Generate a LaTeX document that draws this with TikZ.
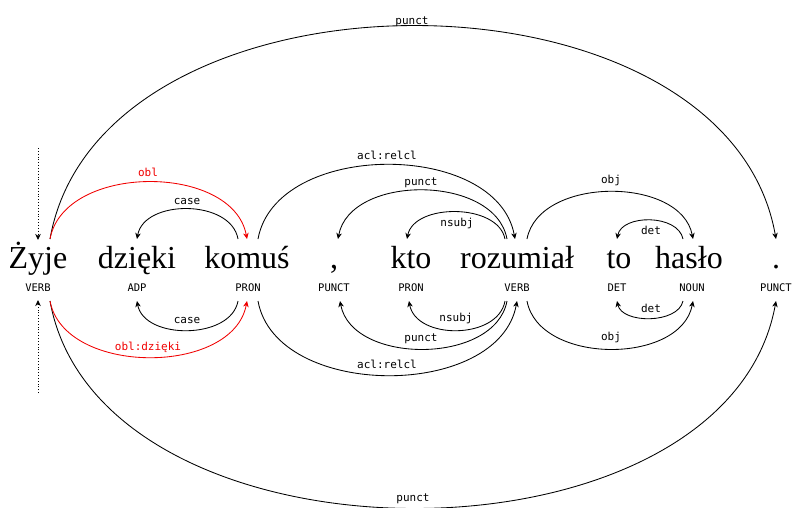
\documentclass[tikz,border=0pt]{standalone}
\usepackage{fontspec}
\usetikzlibrary{calc,arrows.meta}
\newfontfamily\labfont{DejaVu Sans Mono}
\newfontfamily\wordfont{Liberation Serif}
\definecolor{depred}{RGB}{240,0,0}
\tikzset{
  word/.style={anchor=base, inner sep=0pt, font=\wordfont\fontsize{32}{34}\selectfont},
  postag/.style={anchor=base, inner sep=0pt, font=\labfont\fontsize{10.5}{12}\selectfont},
  lab/.style={anchor=base, inner sep=0pt, font=\labfont\fontsize{11}{13}\selectfont},
  dep/.style={draw, line width=0.85pt, -{Stealth[length=6pt,width=5.5pt,inset=1.8pt]}},
  rootline/.style={draw, line width=0.85pt, dotted, -{Stealth[length=6pt,width=5.5pt,inset=1.8pt]}},
}
\begin{document}
\begin{tikzpicture}[x=1pt,y=-1pt]
\useasboundingbox (0,0) rectangle (793,507);
% words
\node[word] (w1) at (38,268) {Żyje};
\node[word] (w2) at (137,268) {dzięki};
\node[word] (w3) at (247,268) {komuś};
\node[word] (w4) at (334,268) {,};
\node[word] (w5) at (411,268) {kto};
\node[word] (w6) at (517,268) {rozumiał};
\node[word] (w7) at (619,268) {to};
\node[word] (w8) at (689,268) {hasło};
\node[word] (w9) at (776,268) {.};
% POS
\node[postag] (p1) at (38,291) {VERB};
\node[postag] (p2) at (137,291) {ADP};
\node[postag] (p3) at (248,291) {PRON};
\node[postag] (p4) at (334,291) {PUNCT};
\node[postag] (p5) at (411,291) {PRON};
\node[postag] (p6) at (517,291) {VERB};
\node[postag] (p7) at (617,291) {DET};
\node[postag] (p8) at (692,291) {NOUN};
\node[postag] (p9) at (776,291) {PUNCT};
% top endpoints
\coordinate (rt0) at (38,148);
\coordinate (rt1) at (38,240);
\coordinate (zyT) at (50,239);
\coordinate (dzT) at (137,239);
\coordinate (koTa) at (238,239);
\coordinate (koTb) at (247,239);
\coordinate (koTc) at (258,239);
\coordinate (coT) at (338,239);
\coordinate (ktT) at (407,239);
\coordinate (roTa) at (505,239);
\coordinate (roTb) at (507,239);
\coordinate (roTc) at (515,239);
\coordinate (roTd) at (527,239);
\coordinate (toT) at (617,239);
\coordinate (haTa) at (683,239);
\coordinate (haTb) at (693,239);
\coordinate (doT) at (776,239);
% bottom endpoints
\coordinate (rb0) at (38,393);
\coordinate (rb1) at (38,300);
\coordinate (zyB) at (50,301);
\coordinate (dzB) at (137,301);
\coordinate (koBa) at (238,301);
\coordinate (koBb) at (247,301);
\coordinate (koBc) at (258,301);
\coordinate (coB) at (340,301);
\coordinate (ktB) at (409,301);
\coordinate (roBa) at (505,301);
\coordinate (roBb) at (507,301);
\coordinate (roBc) at (517,301);
\coordinate (roBd) at (527,301);
\coordinate (toB) at (617,301);
\coordinate (haBa) at (683,301);
\coordinate (haBb) at (693,301);
\coordinate (doB) at (776,301);
% root lines
\draw[rootline] (rt0) -- (rt1);
\draw[rootline] (rb0) -- (rb1);
% top arcs
\draw[dep] (zyT) .. controls ($(zyT)+(50,-284)$) and ($(doT)+(-50,-284)$) .. (doT);
\node[lab] (l1) at (412,24) {punct};
\draw[dep,depred] (zyT) .. controls ($(zyT)+(14,-76)$) and ($(koTb)+(-14,-76)$) .. (koTb);
\node[lab,text=depred] (l2) at (148,176) {obl};
\draw[dep] (koTa) .. controls ($(koTa)+(-7,-40)$) and ($(dzT)+(7,-40)$) .. (dzT);
\node[lab] (l3) at (187,204) {case};
\draw[dep] (koTc) .. controls ($(koTc)+(18,-99)$) and ($(roTc)+(-18,-99)$) .. (roTc);
\node[lab] (l4) at (387,159) {acl:relcl};
\draw[dep] (roTb) .. controls ($(roTb)+(-12,-65)$) and ($(coT)+(12,-65)$) .. (coT);
\node[lab] (l5) at (421,185) {punct};
\draw[dep] (roTa) .. controls ($(roTa)+(-7,-36)$) and ($(ktT)+(7,-36)$) .. (ktT);
\node[lab] (l6) at (457,226) {nsubj};
\draw[dep] (roTd) .. controls ($(roTd)+(12,-63)$) and ($(haTb)+(-12,-63)$) .. (haTb);
\node[lab] (l7) at (611,183) {obj};
\draw[dep] (haTa) .. controls ($(haTa)+(-5,-25)$) and ($(toT)+(5,-25)$) .. (toT);
\node[lab] (l8) at (651,234) {det};
% bottom arcs
\draw[dep] (zyB) .. controls ($(zyB)+(50,276)$) and ($(doB)+(-50,276)$) .. (doB);
\node[lab] (m1) at (413,501) {punct};
\draw[dep,depred] (zyB) .. controls ($(zyB)+(14,75)$) and ($(koBb)+(-14,75)$) .. (koBb);
\node[lab,text=depred] (m2) at (148,350) {obl:dzięki};
\draw[dep] (koBa) .. controls ($(koBa)+(-7,39)$) and ($(dzB)+(7,39)$) .. (dzB);
\node[lab] (m3) at (187,323) {case};
\draw[dep] (koBc) .. controls ($(koBc)+(18,99)$) and ($(roBc)+(-18,99)$) .. (roBc);
\node[lab] (m4) at (387,368) {acl:relcl};
\draw[dep] (roBb) .. controls ($(roBb)+(-12,64)$) and ($(coB)+(12,64)$) .. (coB);
\node[lab] (m5) at (421,341) {punct};
\draw[dep] (roBa) .. controls ($(roBa)+(-7,39)$) and ($(ktB)+(7,39)$) .. (ktB);
\node[lab] (m6) at (456,321) {nsubj};
\draw[dep] (roBd) .. controls ($(roBd)+(12,64)$) and ($(haBb)+(-12,64)$) .. (haBb);
\node[lab] (m7) at (611,340) {obj};
\draw[dep] (haBa) .. controls ($(haBa)+(-5,23)$) and ($(toB)+(5,23)$) .. (toB);
\node[lab] (m8) at (651,312) {det};
\end{tikzpicture}
\end{document}
